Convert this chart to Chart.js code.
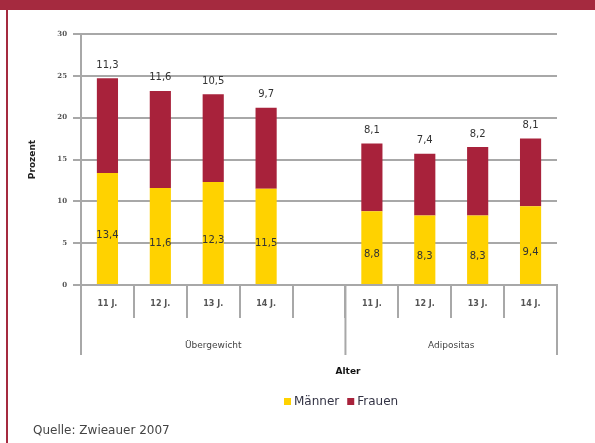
<!DOCTYPE html>
<html>
<head>
<meta charset="utf-8">
<script src="https://cdn.jsdelivr.net/npm/chart.js@4"></script>
<style>
  body { margin: 0; width: 595px; height: 443px; background: #fff; position: relative; overflow: hidden; }
  #banner { position: absolute; left: 0; top: 0; width: 595px; height: 10px; background: #a52a3f; }
  #rand { position: absolute; left: 6px; top: 10px; width: 2px; height: 433px; background: #a52a3f; }
  #wrap { position: absolute; left: 0; top: 0; width: 595px; height: 443px; }
  #quelle { position: absolute; left: 33px; top: 423px; font: 12px "DejaVu Sans", Verdana, sans-serif; color: #444; }
</style>
</head>
<body>
<div id="banner"></div>
<div id="rand"></div>
<div id="wrap"><canvas id="grafik" width="595" height="443"></canvas></div>
<div id="quelle">Quelle: Zwieauer 2007</div>
<script>
// Daten
let kategorien = ['11 J.', '12 J.', '13 J.', '14 J.', '', '11 J.', '12 J.', '13 J.', '14 J.'];
let maenner = [13.4, 11.6, 12.3, 11.5, null, 8.8, 8.3, 8.3, 9.4];
let frauen = [11.3, 11.6, 10.5, 9.7, null, 8.1, 7.4, 8.2, 8.1];
let gruppen = ['Übergewicht', 'Adipositas'];

const GELB = '#ffd200';
const ROT = '#a8223b';
const GRAU = '#a8a8a8';

function komma(v) { return v.toFixed(1).replace('.', ','); }

// Werte, Gruppen, Achsentitel, Legende
const extras = {
    id: 'extras',
    afterDatasetsDraw(chart) {
        const ctx = chart.ctx;
        const area = chart.chartArea;
        const x = chart.scales.x;

        ctx.save();
        ctx.font = '10px "DejaVu Sans", Verdana, sans-serif';
        ctx.fillStyle = '#333';
        ctx.textAlign = 'center';
        ctx.textBaseline = 'middle';
        chart.getDatasetMeta(0).data.forEach((bar, i) => {
            if (maenner[i] == null) return;
            ctx.fillText(komma(maenner[i]), bar.x, (bar.y + bar.base) / 2 + 7);
        });
        chart.getDatasetMeta(1).data.forEach((bar, i) => {
            if (frauen[i] == null) return;
            ctx.fillText(komma(frauen[i]), bar.x, bar.y - 13);
        });

        // lange Trennlinien der Gruppen
        let grenzen = [area.left, (x.getPixelForValue(4) + x.getPixelForValue(5)) / 2, area.right];
        ctx.strokeStyle = GRAU;
        ctx.lineWidth = 2;
        grenzen.forEach(g => {
            ctx.beginPath();
            ctx.moveTo(g, area.bottom);
            ctx.lineTo(g, area.bottom + 70);
            ctx.stroke();
        });

        ctx.font = '9px "DejaVu Sans", Verdana, sans-serif';
        ctx.fillStyle = '#444';
        ctx.fillText(gruppen[0], (grenzen[0] + grenzen[1]) / 2, area.bottom + 61);
        ctx.fillText(gruppen[1], (grenzen[1] + grenzen[2]) / 2, area.bottom + 61);

        ctx.font = 'bold 9px "DejaVu Sans", Verdana, sans-serif';
        ctx.fillStyle = '#111';
        ctx.fillText('Alter', 348, 372);

        // Legende
        ctx.font = '12px "DejaVu Sans", Verdana, sans-serif';
        ctx.textAlign = 'left';
        let lx = 284;
        chart.data.datasets.forEach(ds => {
            ctx.fillStyle = ds.backgroundColor;
            ctx.fillRect(lx, 398, 7, 7);
            ctx.fillStyle = '#334';
            ctx.fillText(ds.label, lx + 10, 402);
            lx += 10 + ctx.measureText(ds.label).width + 8;
        });
        ctx.restore();
    }
};

new Chart(document.getElementById('grafik'), {
    type: 'bar',
    data: {
        labels: kategorien,
        datasets: [
            { label: 'Männer', data: maenner, backgroundColor: GELB, categoryPercentage: 1, barPercentage: 0.4 },
            { label: 'Frauen', data: frauen, backgroundColor: ROT, categoryPercentage: 1, barPercentage: 0.4 }
        ]
    },
    options: {
        responsive: false,
        animation: false,
        layout: { padding: { top: 34, right: 38, left: 27, bottom: 0 } },
        plugins: { legend: { display: false }, tooltip: { enabled: false } },
        scales: {
            x: {
                stacked: true,
                afterFit(s) { s.height = 158; },
                grid: { drawOnChartArea: false, color: GRAU, lineWidth: 2, tickLength: 33, offset: true },
                border: { color: GRAU, width: 2 },
                ticks: { padding: -19, color: '#555', font: { family: 'DejaVu Sans', size: 8, weight: 'bold' }, maxRotation: 0, autoSkip: false }
            },
            y: {
                stacked: true,
                min: 0, max: 30,
                afterFit(s) { s.width = 54; },
                ticks: { stepSize: 5, padding: 6, color: '#555', font: { family: 'DejaVu Serif', size: 7, weight: 'bold' } },
                grid: { color: GRAU, lineWidth: 2, tickLength: 8 },
                border: { color: GRAU, width: 2 },
                title: { display: true, text: 'Prozent', color: '#222', font: { family: 'DejaVu Sans', size: 9, weight: 'bold' }, padding: { top: 0, bottom: 0 } }
            }
        }
    },
    plugins: [extras]
});
</script>
</body>
</html>
